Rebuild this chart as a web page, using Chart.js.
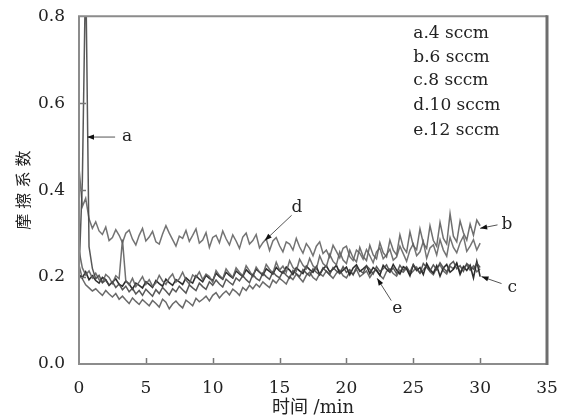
<!DOCTYPE html>
<html>
<head>
<meta charset="utf-8">
<script src="https://cdn.jsdelivr.net/npm/chart.js@4.4.1/dist/chart.umd.min.js"></script>
<style>
html,body{margin:0;padding:0;background:#fff;}
#c{display:block;}
</style>
</head>
<body>
<canvas id="c" width="570" height="417"></canvas>
<script>
// ---- data (time in min, friction coefficient) ----
const time = [0,0.25,0.5,0.75,1,1.25,1.5,1.75,2,2.25,2.5,2.75,3,3.25,3.5,3.75,4,4.25,4.5,4.75,5,
5.25,5.5,5.75,6,6.25,6.5,6.75,7,7.25,7.5,7.75,8,8.25,8.5,8.75,9,9.25,9.5,9.75,10,10.25,10.5,10.75,11,
11.25,11.5,11.75,12,12.25,12.5,12.75,13,13.25,13.5,13.75,14,14.25,14.5,14.75,15,15.25,15.5,15.75,16,16.25,16.5,16.75,17,
17.25,17.5,17.75,18,18.25,18.5,18.75,19,19.25,19.5,19.75,20,20.25,20.5,20.75,21,21.25,21.5,21.75,22,22.25,22.5,22.75,23,
23.25,23.5,23.75,24,24.25,24.5,24.75,25,25.25,25.5,25.75,26,26.25,26.5,26.75,27,27.25,27.5,27.75,28,28.25,28.5,28.75,29,
29.25,29.5,29.75,30];

const seriesA = [0.210,0.420,0.920,0.270,0.220,
0.196,0.204,0.187,0.193,0.181,0.189,0.176,0.184,
0.171,0.179,0.166,0.174,0.161,0.169,0.158,0.172,
0.164,0.156,0.171,0.162,0.176,0.168,0.159,0.173,
0.166,0.179,0.171,0.163,0.182,0.175,0.169,0.186,
0.178,0.172,0.189,0.181,0.193,0.184,0.177,0.195,
0.188,0.182,0.198,0.191,0.203,0.194,0.187,0.206,
0.197,0.192,0.209,0.201,0.195,0.212,0.203,0.198,
0.213,0.204,0.197,0.215,0.208,0.201,0.217,0.209,
0.203,0.219,0.211,0.205,0.221,0.213,0.206,0.222,
0.214,0.208,0.224,0.211,0.217,0.205,0.223,0.215,
0.209,0.226,0.218,0.207,0.224,0.213,0.219,0.228,
0.212,0.221,0.208,0.227,0.216,0.224,0.211,0.229,
0.218,0.209,0.231,0.222,0.214,0.228,0.217,0.233,
0.221,0.212,0.229,0.236,0.219,0.226,0.213,0.231,
0.224,0.218,0.232,0.222];

const seriesB = [0.262,0.221,0.205,0.214,0.198,
0.209,0.194,0.188,0.206,0.199,0.185,0.203,0.196,
0.286,0.191,0.182,0.197,0.178,0.189,0.201,0.183,
0.194,0.179,0.186,0.204,0.191,0.183,0.198,0.207,
0.188,0.196,0.211,0.193,0.184,0.205,0.199,0.212,
0.194,0.207,0.201,0.188,0.215,0.204,0.196,0.219,
0.208,0.199,0.221,0.211,0.203,0.226,0.214,0.201,
0.223,0.212,0.206,0.229,0.218,0.209,0.234,0.216,
0.225,0.211,0.238,0.222,0.214,0.241,0.227,0.219,
0.243,0.226,0.218,0.249,0.231,0.224,0.252,0.236,
0.228,0.258,0.239,0.231,0.262,0.244,0.235,0.268,
0.247,0.238,0.273,0.251,0.242,0.279,0.256,0.246,
0.285,0.262,0.251,0.297,0.268,0.257,0.304,0.272,
0.263,0.311,0.278,0.266,0.318,0.284,0.271,0.326,
0.289,0.276,0.346,0.294,0.281,0.329,0.302,0.285,
0.322,0.296,0.331,0.318];

const seriesC = [0.205,0.198,0.212,0.194,0.203,
0.192,0.186,0.199,0.194,0.181,0.188,0.196,0.183,
0.179,0.191,0.184,0.172,0.186,0.181,0.175,0.189,
0.183,0.176,0.192,0.185,0.179,0.195,0.187,0.181,
0.194,0.189,0.183,0.198,0.191,0.186,0.203,0.195,
0.189,0.204,0.197,0.192,0.209,0.201,0.195,0.211,
0.204,0.198,0.214,0.207,0.201,0.217,0.209,0.203,
0.218,0.211,0.204,0.219,0.213,0.207,0.222,0.214,
0.209,0.223,0.216,0.206,0.221,0.214,0.208,0.225,
0.217,0.211,0.224,0.206,0.219,0.226,0.212,0.218,
0.227,0.209,0.216,0.223,0.205,0.221,0.228,0.213,
0.219,0.226,0.208,0.222,0.215,0.204,0.227,0.218,
0.211,0.229,0.216,0.207,0.224,0.219,0.203,0.228,
0.215,0.222,0.206,0.231,0.217,0.209,0.226,0.202,
0.221,0.229,0.211,0.218,0.232,0.206,0.224,0.215,
0.227,0.198,0.236,0.201];

const seriesD = [0.452,0.362,0.381,0.334,0.312,
0.327,0.306,0.298,0.315,0.284,0.291,0.309,0.296,
0.279,0.301,0.308,0.287,0.274,0.296,0.312,0.283,
0.292,0.305,0.281,0.276,0.299,0.318,0.301,0.286,
0.271,0.294,0.289,0.307,0.282,0.296,0.311,0.278,
0.285,0.302,0.268,0.291,0.296,0.279,0.306,0.288,
0.274,0.297,0.283,0.266,0.292,0.301,0.276,0.284,
0.298,0.267,0.279,0.288,0.261,0.283,0.291,0.272,
0.258,0.281,0.276,0.262,0.289,0.269,0.255,0.277,
0.266,0.249,0.271,0.281,0.254,0.262,0.246,0.273,
0.259,0.244,0.266,0.271,0.247,0.238,0.262,0.255,
0.241,0.263,0.249,0.233,0.258,0.267,0.242,0.251,
0.264,0.239,0.246,0.271,0.254,0.236,0.262,0.276,
0.249,0.258,0.282,0.243,0.267,0.274,0.251,0.286,
0.262,0.248,0.291,0.268,0.256,0.279,0.294,0.259,
0.271,0.286,0.262,0.278];

const seriesE = [0.228,0.196,0.182,0.175,0.168,
0.173,0.165,0.158,0.169,0.161,0.154,0.162,0.149,
0.156,0.147,0.139,0.152,0.144,0.137,0.148,0.141,
0.134,0.146,0.139,0.131,0.149,0.142,0.127,0.138,
0.145,0.136,0.129,0.147,0.141,0.134,0.151,0.143,
0.149,0.156,0.145,0.158,0.164,0.152,0.161,0.168,
0.159,0.172,0.166,0.158,0.176,0.169,0.181,0.173,
0.184,0.177,0.189,0.182,0.176,0.193,0.186,0.197,
0.191,0.184,0.201,0.194,0.207,0.198,0.189,0.204,
0.211,0.199,0.193,0.208,0.202,0.214,0.205,0.197,
0.209,0.216,0.203,0.198,0.212,0.206,0.218,0.201,
0.207,0.214,0.199,0.211,0.217,0.204,0.196,0.213,
0.219,0.208,0.202,0.216,0.211,0.221,0.206,0.214,
0.223,0.209,0.217,0.226,0.212,0.205,0.221,0.228,
0.214,0.207,0.225,0.219,0.231,0.211,0.222,0.228,
0.216,0.226,0.212,0.219];

const legendLines = ['a.4 sccm','b.6 sccm','c.8 sccm','d.10 sccm','e.12 sccm'];
const xTicks = [0,5,10,15,20,25,30,35];
const yTicks = [0.0,0.2,0.4,0.6,0.8];
const xTitle = '时间 /min';
const yTitle = '摩 擦 系 数';

// ---- helpers ----
const toXY = ys => ys.map((y,i)=>({x:time[i], y:y}));
const SERIF = "'DejaVu Serif','Noto Sans CJK SC',serif";

const mk = (ys, color, w) => ({data: toXY(ys), borderColor: color, borderWidth: w,
  pointRadius: 0, tension: 0, fill: false});

// annotation placements (data units): text pos, line start, line end
const notes = [
  {t:'a', tx:3.6, ty:0.522, x1:2.7, y1:0.522, x2:0.6, y2:0.522},
  {t:'d', tx:16.3, ty:0.360, x1:15.9, y1:0.342, x2:13.9, y2:0.284},
  {t:'b', tx:32.0, ty:0.320, x1:31.3, y1:0.320, x2:30.0, y2:0.312},
  {t:'c', tx:32.4, ty:0.176, x1:31.6, y1:0.185, x2:30.1, y2:0.201},
  {t:'e', tx:23.8, ty:0.128, x1:23.35, y1:0.146, x2:22.3, y2:0.197}
];
const legendPos = {x:25.0, y:[0.760, 0.705, 0.652, 0.594, 0.537]};

const decor = {
  id:'decor',
  afterDraw(chart){
    const {ctx, chartArea:a, scales:{x, y}} = chart;
    ctx.save();
    // inner tick marks
    ctx.strokeStyle = '#777'; ctx.lineWidth = 1.5;
    xTicks.forEach(v=>{ if(v<=0||v>=35) return; const px = Math.round(x.getPixelForValue(v))+0.5;
      ctx.beginPath(); ctx.moveTo(px, a.bottom); ctx.lineTo(px, a.bottom-6); ctx.stroke(); });
    yTicks.forEach(v=>{ if(v<=0||v>=0.8) return; const py = Math.round(y.getPixelForValue(v))+0.5;
      ctx.beginPath(); ctx.moveTo(a.left, py); ctx.lineTo(a.left+7, py); ctx.stroke(); });
    // frame
    ctx.strokeStyle = '#8c8c8c'; ctx.lineWidth = 2;
    ctx.beginPath();
    ctx.moveTo(a.right, a.top); ctx.lineTo(a.left, a.top); ctx.lineTo(a.left, a.bottom); ctx.lineTo(a.right, a.bottom);
    ctx.stroke();
    ctx.strokeStyle = '#6e6e6e'; ctx.lineWidth = 3;
    ctx.beginPath(); ctx.moveTo(a.right, a.top-1); ctx.lineTo(a.right, a.bottom+1); ctx.stroke();
    // legend text
    ctx.fillStyle = '#222'; ctx.font = "17px " + SERIF; ctx.textAlign = 'left'; ctx.textBaseline = 'middle';
    legendLines.forEach((s,i)=> ctx.fillText(s, x.getPixelForValue(legendPos.x), y.getPixelForValue(legendPos.y[i])));
    // curve labels with arrows
    notes.forEach(n=>{
      const X1 = x.getPixelForValue(n.x1), Y1 = y.getPixelForValue(n.y1);
      const X2 = x.getPixelForValue(n.x2), Y2 = y.getPixelForValue(n.y2);
      ctx.strokeStyle = '#555'; ctx.lineWidth = 1;
      ctx.beginPath(); ctx.moveTo(X1,Y1); ctx.lineTo(X2,Y2); ctx.stroke();
      const ang = Math.atan2(Y2-Y1, X2-X1), L = 7, W = 2.6;
      ctx.fillStyle = '#111';
      ctx.beginPath();
      ctx.moveTo(X2,Y2);
      ctx.lineTo(X2 - L*Math.cos(ang) + W*Math.sin(ang), Y2 - L*Math.sin(ang) - W*Math.cos(ang));
      ctx.lineTo(X2 - L*Math.cos(ang) - W*Math.sin(ang), Y2 - L*Math.sin(ang) + W*Math.cos(ang));
      ctx.closePath(); ctx.fill();
      ctx.fillStyle = '#222'; ctx.textAlign = 'center';
      ctx.fillText(n.t, x.getPixelForValue(n.tx), y.getPixelForValue(n.ty));
    });
    ctx.restore();
  }
};

new Chart(document.getElementById('c'), {
  type:'line',
  data:{ datasets:[
    mk(seriesA, 'rgba(70,70,70,0.9)', 1.5),
    mk(seriesB, 'rgba(95,95,95,0.9)', 1.5),
    mk(seriesC, 'rgba(35,35,35,0.95)', 1.6),
    mk(seriesD, 'rgba(100,100,100,0.9)', 1.5),
    mk(seriesE, 'rgba(90,90,90,0.9)', 1.5)
  ]},
  options:{
    responsive:false, animation:false, devicePixelRatio:1,
    layout:{padding:{top:16, right:23, left:0, bottom:0}},
    plugins:{legend:{display:false}, tooltip:{enabled:false}},
    scales:{
      x:{type:'linear', min:0, max:35,
        afterBuildTicks: s => { s.ticks = xTicks.map(v=>({value:v})); },
        afterFit: s => { s.height = 53; },
        grid:{display:false}, border:{display:false},
        ticks:{font:{family:SERIF, size:17}, color:'#222', padding:6, maxRotation:0, autoSkip:false},
        title:{display:true, text:xTitle, font:{family:SERIF, size:18, lineHeight:1}, color:'#222', padding:{top:0,bottom:0}}
      },
      y:{min:0, max:0.8,
        afterBuildTicks: s => { s.ticks = yTicks.map(v=>({value:v})); },
        afterFit: s => { s.width = 79; },
        grid:{display:false}, border:{display:false},
        ticks:{font:{family:SERIF, size:17}, color:'#222', padding:6, callback:v=>v.toFixed(1)},
        title:{display:true, text:yTitle, font:{family:SERIF, size:16}, color:'#222', padding:{top:15,bottom:0}}
      }
    }
  },
  plugins:[decor]
});
</script>
</body>
</html>
